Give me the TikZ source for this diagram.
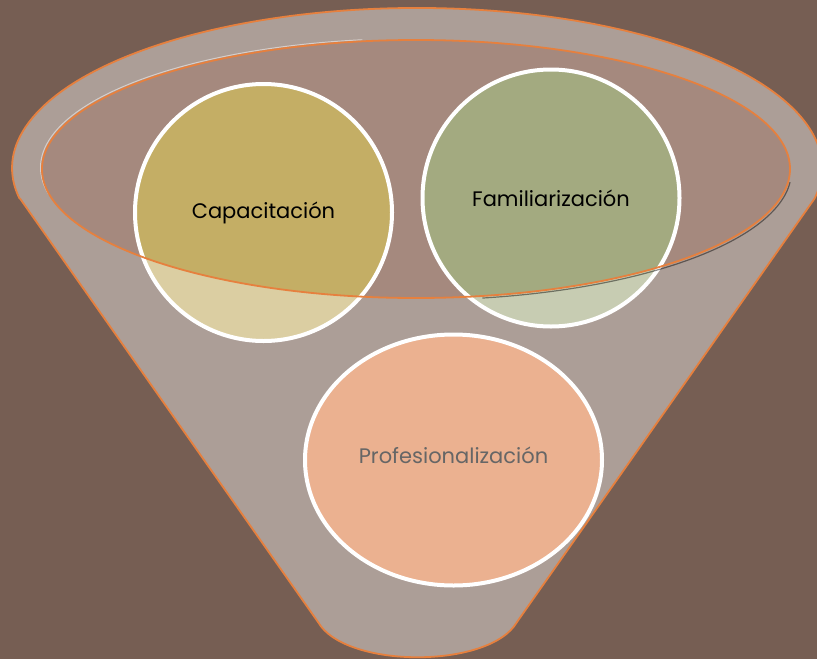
\documentclass[tikz,border=0pt]{standalone}
\usepackage{fontspec}
\setmainfont{Poppins}
\usepackage{tikz}
\usetikzlibrary{shapes.geometric}

\definecolor{bgbrown}{RGB}{118,94,83}
\definecolor{rimorange}{RGB}{230,128,62}
\definecolor{mouthpink}{RGB}{165,137,126}
\definecolor{goldfill}{RGB}{196,174,101}
\definecolor{sagefill}{RGB}{163,170,128}
\definecolor{peachfill}{RGB}{222,125,70}

\tikzset{
    bubble/.style={circle, draw=white, line width=4pt, minimum size=257pt,
        inner sep=0pt, font=\fontsize{21}{24}\selectfont},
    rim/.style={draw=rimorange, line width=1.8pt, line join=round}
}

\begin{document}
\begin{tikzpicture}[x=1pt, y=-1pt]
    \useasboundingbox (0,0) rectangle (817,659);
    \fill[bgbrown] (0,0) rectangle (817,659);

    % Mouth of the funnel
    \fill[mouthpink] (416,169) ellipse (374 and 129);

    % Stages
    \node[bubble, fill=goldfill] (capa) at (263.5,212.5) {Capacitación};
    \node[bubble, fill=sagefill] (fami) at (551,198) {Familiarización};
    \node[bubble, ellipse, fill=peachfill, minimum width=297pt, minimum height=251pt,
        text depth=10pt] (prof) at (453.5,460) {Profesionalización};

    % Funnel body (translucent, with the mouth left open)
    \fill[white, fill opacity=0.4, even odd rule]
        (20,198.5) -- (318,622) .. controls (345,669) and (490,669) .. (517,622)
        -- (814.6,198.5) arc[start angle=11, end angle=-191, x radius=405, y radius=160] -- cycle
        (416,169) ellipse (374 and 129);

    % Bevel of the mouth
    \draw[black, opacity=0.45, line width=1.2pt]
        (417.5,171) ++(5:374 and 129) arc[start angle=5, end angle=80, x radius=374, y radius=129];
    \draw[white, opacity=0.5, line width=1pt]
        (414.5,167.5) ++(168:374 and 129) arc[start angle=168, end angle=262, x radius=374, y radius=129];

    % Outlines
    \draw[rim] (20,198.5) -- (318,622) .. controls (345,669) and (490,669) .. (517,622)
        -- (814.6,198.5) arc[start angle=11, end angle=-191, x radius=405, y radius=160] -- cycle;
    \draw[rim] (416,169) ellipse (374 and 129);
\end{tikzpicture}
\end{document}
